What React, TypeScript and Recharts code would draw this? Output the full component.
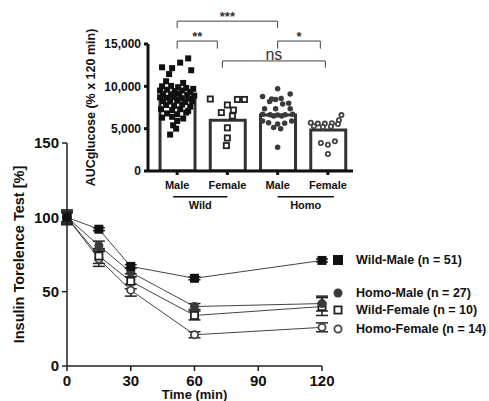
import React from "react";
import {
  Bar,
  ComposedChart,
  ErrorBar,
  Legend,
  Line,
  LineChart,
  ReferenceLine,
  Scatter,
  XAxis,
  YAxis,
} from "recharts";

const FONT = '"Liberation Sans", Arial, sans-serif';
const INK = "#222";

// main time course (% of baseline glucose)
const times = [0, 15, 30, 60, 120];
const timeTicks = [0, 30, 60, 90, 120];
const pctTicks = [0, 50, 100, 150];

const wildMale = [100, 92, 67, 59, 71];
const wildMaleErr = [3, 1, 1.2, 1, 1];
const homoMale = [100, 81, 63, 40, 42];
const homoMaleErr = [4, 3, 3, 2, 5];
const wildFemale = [100, 74, 57, 34, 40];
const wildFemaleErr = [5, 5, 5, 3, 6];
const homoFemale = [100, 72, 51, 21, 26];
const homoFemaleErr = [4, 5, 4, 2, 3];

// inset: AUC per animal
const sexLabels = ["Male", "Female", "Male", "Female"];
const aucMeans = [8600, 6000, 6600, 4850];
const aucTicks = [0, 5000, 10000, 15000];

// [x jitter, AUC]
const wildMalePts: [number, number][] = [
  [0.22, 13300], [0.06, 12800], [-0.3, 12250], [-0.1, 12150], [0.28, 11900],
  [-0.16, 11450], [-0.22, 10600], [0.12, 10400], [-0.3, 10000], [-0.12, 10050],
  [0.02, 9900], [0.18, 9800], [0.32, 9700], [-0.34, 9500], [-0.2, 9600],
  [-0.05, 9450], [0.1, 9500], [0.26, 9350], [-0.28, 9100], [-0.12, 9050],
  [0.04, 9150], [0.2, 9000], [0.34, 8900], [-0.34, 8700], [-0.2, 8650],
  [-0.06, 8750], [0.08, 8600], [0.24, 8550], [-0.28, 8250], [-0.14, 8200],
  [0.0, 8300], [0.16, 8150], [0.3, 8250], [-0.22, 7800], [-0.06, 7700],
  [0.1, 7850], [0.26, 7600], [-0.32, 7300], [-0.1, 7200], [0.06, 7300],
  [0.22, 7100], [-0.2, 6800], [0.0, 6700], [0.18, 6900], [-0.3, 6300],
  [-0.1, 6400], [0.12, 6200], [0.0, 5900], [-0.08, 5400], [-0.02, 5000],
  [-0.14, 4300],
];
const wildFemalePts: [number, number][] = [
  [-0.34, 8500], [0.2, 8450], [0.34, 8450], [0.0, 7800], [0.12, 7200],
  [-0.12, 6900], [0.1, 6500], [0.0, 5100], [0.0, 3900], [-0.02, 3000],
];
const homoMalePts: [number, number][] = [
  [0.0, 9700], [0.25, 9100], [-0.3, 8800], [-0.12, 8500], [-0.04, 8450],
  [0.07, 8550], [-0.16, 8200], [0.1, 7900], [0.22, 8000], [-0.26, 7350],
  [-0.04, 7350], [0.25, 7350], [-0.3, 6700], [-0.15, 6650], [0.0, 6600],
  [0.15, 6650], [0.3, 6700], [-0.08, 6500], [0.08, 6500], [-0.3, 5900],
  [-0.18, 5700], [0.0, 5550], [0.14, 5650], [0.28, 5900], [-0.08, 5150],
  [0.06, 5000], [0.0, 2800],
];
const homoFemalePts: [number, number][] = [
  [0.27, 6600], [0.22, 6000], [-0.34, 5700], [-0.2, 5600], [-0.06, 5600],
  [0.08, 5650], [0.2, 5550], [-0.28, 5300], [-0.1, 5200], [0.06, 5250],
  [-0.14, 3300], [0.0, 3100], [0.14, 3500], [0.0, 2000],
];

// significance brackets: from / to in group index, heights in AUC units
const brackets = [
  { from: 0, to: 2, top: 17700, drop: 16900, label: "***" },
  { from: 0, to: 0.8, top: 15350, drop: 14450, label: "**" },
  { from: 2, to: 2.85, top: 15350, drop: 14450, label: "*" },
  { from: 0.9, to: 2.95, top: 13000, drop: 12200, label: "ns" },
];

// genotype underlines below the sex labels
const genotypeGroups = [
  { from: -0.08, to: 1.0, label: "Wild" },
  { from: 2.0, to: 3.12, label: "Homo" },
];
const GROUP_LINE_Y = -3050;

type Kind = "sq" | "sqOpen" | "dot" | "dotOpen";

const Marker = ({ kind, cx, cy, size }: { kind: Kind; cx: number; cy: number; size: number }) => {
  const h = size / 2;
  if (kind === "sq") return <rect x={cx - h} y={cy - h} width={size} height={size} fill="#111" />;
  if (kind === "sqOpen")
    return <rect x={cx - h + 0.9} y={cy - h + 0.9} width={size - 1.8} height={size - 1.8} fill="#fff" stroke={INK} strokeWidth={1.8} />;
  if (kind === "dot") return <circle cx={cx} cy={cy} r={h} fill="#3a3a3a" />;
  return <circle cx={cx} cy={cy} r={h - 0.9} fill="#fff" stroke="#444" strokeWidth={1.8} />;
};

const mainSeries: { key: string; name: string; values: number[]; errs: number[]; kind: Kind }[] = [
  { key: "hf", name: "Homo-Female (n = 14)", values: homoFemale, errs: homoFemaleErr, kind: "dotOpen" },
  { key: "wf", name: "Wild-Female (n = 10)", values: wildFemale, errs: wildFemaleErr, kind: "sqOpen" },
  { key: "hm", name: "Homo-Male (n = 27)", values: homoMale, errs: homoMaleErr, kind: "dot" },
  { key: "wm", name: "Wild-Male (n = 51)", values: wildMale, errs: wildMaleErr, kind: "sq" },
];

const mainData = times.map((t, i) => {
  const row: Record<string, number> = { t };
  mainSeries.forEach((s) => {
    row[s.key] = s.values[i];
    row[`${s.key}Err`] = s.errs[i];
  });
  return row;
});

const aucRows = aucMeans.map((mean, i) => ({ x: i, mean }));
const toPts = (pts: [number, number][], group: number) => pts.map(([dx, y]) => ({ x: group + dx, y }));

const aucGroups: { name: string; pts: [number, number][]; kind: Kind }[] = [
  { name: "Wild-Male", pts: wildMalePts, kind: "sq" },
  { name: "Wild-Female", pts: wildFemalePts, kind: "sqOpen" },
  { name: "Homo-Male", pts: homoMalePts, kind: "dot" },
  { name: "Homo-Female", pts: homoFemalePts, kind: "dotOpen" },
];

// legend rows, top to bottom, with their vertical centre inside the legend box
const legendRows = [
  { key: "wm", y: 10 },
  { key: "hm", y: 43 },
  { key: "wf", y: 60 },
  { key: "hf", y: 79 },
];

const SeriesLegend = () => (
  <div style={{ position: "relative", width: 160, height: 95 }}>
    {legendRows.map((r) => {
      const s = mainSeries.find((m) => m.key === r.key)!;
      return (
        <div key={r.key} style={{ position: "absolute", left: 0, top: r.y - 8, height: 16, display: "flex", alignItems: "center" }}>
          <svg width={20} height={16}>
            <Marker kind={s.kind} cx={10} cy={8} size={s.kind === "sq" ? 10 : 9} />
          </svg>
          <span style={{ marginLeft: 8, fontSize: 12.5, fontWeight: 700, color: "#111", fontFamily: FONT, whiteSpace: "nowrap" }}>
            {s.name}
          </span>
        </div>
      );
    })}
  </div>
);

const DOMAIN_X: [number, number] = [-0.58, 3.5];

const App = () => {
  const tickStyle = { fontSize: 15, fontWeight: 700, fill: "#111", fontFamily: FONT };
  const smallTick = { fontSize: 12, fontWeight: 700, fill: "#111", fontFamily: FONT };
  return (
    <div style={{ position: "absolute", left: 0, top: 0, width: 489, height: 401, background: "#fff", fontFamily: FONT }}>
      <div style={{ position: "absolute", left: 0, top: 0 }}>
        <LineChart width={489} height={401} data={mainData} margin={{ top: 143, right: 167, bottom: 0, left: 0 }}>
          <XAxis
            dataKey="t"
            type="number"
            domain={[0, 120]}
            ticks={timeTicks}
            height={35}
            tickSize={5}
            tickMargin={4}
            stroke={INK}
            strokeWidth={1.5}
            tick={tickStyle}
            label={{ value: "Time (min)", position: "insideBottom", offset: 2, style: { fontSize: 13, fontWeight: 700, fill: "#111", fontFamily: FONT } }}
          />
          <YAxis
            type="number"
            domain={[0, 150]}
            ticks={pctTicks}
            width={67}
            tickSize={5}
            tickMargin={3}
            stroke={INK}
            strokeWidth={1.5}
            tick={tickStyle}
            label={{
              value: "Insulin Torelence Test [%]",
              angle: -90,
              position: "insideLeft",
              offset: 19,
              style: { textAnchor: "middle", fontSize: 14.5, fontWeight: 700, fill: "#111", fontFamily: FONT },
            }}
          />
          {mainSeries.map((s) => (
            <Line
              key={s.key}
              dataKey={s.key}
              name={s.name}
              type="linear"
              stroke="#444"
              strokeWidth={1}
              isAnimationActive={false}
              activeDot={false}
              dot={(p: any) => <Marker key={`${s.key}-${p.index}`} kind={s.kind} cx={p.cx} cy={p.cy} size={9} />}
            >
              <ErrorBar dataKey={`${s.key}Err`} direction="y" width={6} stroke={INK} strokeWidth={1.5} />
            </Line>
          ))}
          <Legend
            layout="vertical"
            align="center"
            verticalAlign="middle"
            content={() => <SeriesLegend />}
            wrapperStyle={{ left: 328, top: 250, width: 160, height: 95 }}
          />
        </LineChart>
      </div>

      <div style={{ position: "absolute", left: 0, top: 0 }}>
        <ComposedChart width={489} height={225} data={aucRows} margin={{ top: 44, right: 136, bottom: 34, left: 80 }}>
          <XAxis
            dataKey="x"
            type="number"
            domain={DOMAIN_X}
            allowDataOverflow
            ticks={[0, 1, 2, 3]}
            tickFormatter={(v: number) => sexLabels[v] ?? ""}
            height={20}
            tickSize={4}
            tickMargin={6}
            stroke="#111"
            strokeWidth={3}
            tick={{ fontSize: 11, fontWeight: 700, fill: "#111", fontFamily: FONT }}
          />
          <XAxis xAxisId="pts" dataKey="x" type="number" domain={DOMAIN_X} allowDataOverflow hide />
          <YAxis
            type="number"
            domain={[0, 15000]}
            ticks={aucTicks}
            allowDataOverflow
            width={68}
            tickSize={4}
            tickMargin={3}
            stroke="#111"
            strokeWidth={3}
            tickFormatter={(v: number) => v.toLocaleString("en-US")}
            tick={smallTick}
            label={{
              value: "AUCglucose  (% x 120 min)",
              angle: -90,
              position: "insideLeft",
              offset: 11,
              style: { textAnchor: "middle", fontSize: 12.5, fontWeight: 700, fill: "#111", fontFamily: FONT },
            }}
          />
          <Bar dataKey="mean" barSize={35} fill="#fff" stroke="#333" strokeWidth={3} isAnimationActive={false} />
          {aucGroups.map((g, gi) => (
            <Scatter
              key={g.name}
              name={g.name}
              xAxisId="pts"
              data={toPts(g.pts, gi)}
              dataKey="y"
              isAnimationActive={false}
              shape={(p: any) => <Marker kind={g.kind} cx={p.cx} cy={p.cy} size={g.kind === "dot" ? 5.5 : g.kind === "sqOpen" ? 7 : 6} />}
            />
          ))}
          {brackets.map((b) => (
            <React.Fragment key={b.label}>
              <ReferenceLine
                segment={[{ x: b.from, y: b.top }, { x: b.to, y: b.top }]}
                ifOverflow="visible"
                stroke="#444"
                strokeWidth={1}
                label={{
                  value: b.label,
                  position: "top",
                  offset: b.label === "ns" ? 1 : 0,
                  style: b.label === "ns"
                    ? { fontSize: 16, fill: "#333", fontFamily: FONT }
                    : { fontSize: 13, fontWeight: 700, fill: "#333", fontFamily: FONT },
                }}
              />
              <ReferenceLine segment={[{ x: b.from, y: b.top }, { x: b.from, y: b.drop }]} ifOverflow="visible" stroke="#444" strokeWidth={1} />
              <ReferenceLine segment={[{ x: b.to, y: b.top }, { x: b.to, y: b.drop }]} ifOverflow="visible" stroke="#444" strokeWidth={1} />
            </React.Fragment>
          ))}
          {genotypeGroups.map((g) => (
            <ReferenceLine
              key={g.label}
              segment={[{ x: g.from, y: GROUP_LINE_Y }, { x: g.to, y: GROUP_LINE_Y }]}
              ifOverflow="visible"
              stroke="#111"
              strokeWidth={1.5}
              label={{ value: g.label, position: "bottom", offset: 4, style: { fontSize: 11, fontWeight: 700, fill: "#111", fontFamily: FONT } }}
            />
          ))}
        </ComposedChart>
      </div>
    </div>
  );
};

export default App;
